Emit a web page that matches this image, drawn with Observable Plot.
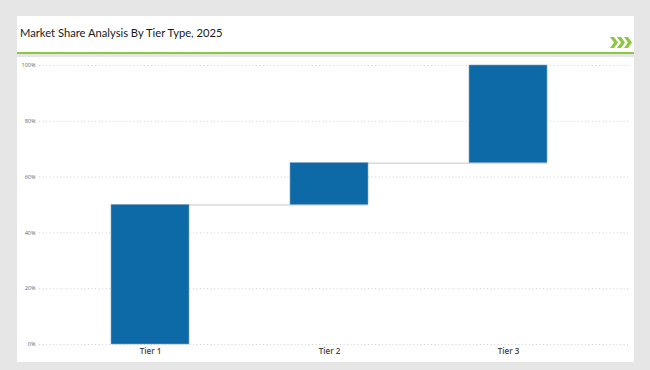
<!DOCTYPE html>
<html>
<head>
<meta charset="utf-8">
<script src="https://cdn.jsdelivr.net/npm/d3@7"></script>
<script src="https://cdn.jsdelivr.net/npm/@observablehq/plot@0.6"></script>
<style>
  html, body { margin: 0; padding: 0; }
  body { width: 650px; height: 370px; background: #e6e6e6; position: relative; overflow: hidden; font-family: "Open Sans", "Noto Sans", sans-serif; }
  #header { position: absolute; left: 17px; top: 16px; width: 617px; height: 36px; background: #fff; }
  #greenline { position: absolute; left: 17px; top: 52px; width: 617px; height: 2px; background: #8dc63f; }
  #title { position: absolute; left: 20px; top: 26px; font-family: Lato, "Open Sans", sans-serif; font-size: 11.2px; color: #1a1a1a; white-space: nowrap; }
  #chev { position: absolute; left: 610px; top: 37px; }
  #panel { position: absolute; left: 17px; top: 57px; width: 617px; height: 305px; background: #fff; }
  #chart { position: absolute; left: 0; top: 0; }
</style>
</head>
<body>
<div id="header"></div>
<div id="greenline"></div>
<div id="title">Market Share Analysis By Tier Type, 2025</div>
<svg id="chev" width="24" height="11" viewBox="0 0 24 11">
  <g fill="#8dc63f">
    <polygon points="0,0 4,0 8,5.5 4,11 0,11 4,5.5"/>
    <polygon points="7,0 11,0 15,5.5 11,11 7,11 11,5.5"/>
    <polygon points="14,0 18,0 22,5.5 18,11 14,11 18,5.5"/>
  </g>
</svg>
<div id="panel"></div>
<div id="chart"></div>
<script>
const tiers = ["Tier 1", "Tier 2", "Tier 3"];
const shares = [50, 15, 35];
const yTicks = [0, 20, 40, 60, 80, 100];

let acc = 0;
const rows = tiers.map((t, i) => {
  const start = acc;
  acc += shares[i];
  return { tier: t, start, end: acc };
});
const connectors = rows.slice(0, -1).map((r, i) => ({ from: r.tier, to: rows[i + 1].tier, y: r.end }));

const chart = Plot.plot({
  width: 650,
  height: 370,
  marginTop: 65,
  marginBottom: 26,
  marginLeft: 39,
  marginRight: 21,
  style: { background: "transparent", fontFamily: "'Open Sans', sans-serif" },
  x: { domain: tiers, range: [60.5, 597.5], paddingInner: 0.564, paddingOuter: 0.282, label: null },
  y: { domain: [0, 100], label: null },
  marks: [
    Plot.ruleY(yTicks, { stroke: "#d0d0d0", strokeDasharray: "1,2.5", strokeWidth: 1 }),
    Plot.ruleY(connectors, { y: "y", x1: "from", x2: "to", stroke: "#c8c8c8", strokeWidth: 1 }),
    Plot.barY(rows, { x: "tier", y1: "start", y2: "end", fill: "#0e69a7", stroke: "#7fa6c4", strokeWidth: 0.6 }),
    Plot.axisY({ ticks: yTicks, tickFormat: d => d + "%", tickSize: 0, tickPadding: 4, fontSize: 5.5, color: "#666", label: null }),
    Plot.axisX({ tickSize: 0, tickPadding: 4, fontSize: 8, fill: "#444", fontWeight: 600, label: null })
  ]
});
document.getElementById("chart").appendChild(chart);
</script>
</body>
</html>
